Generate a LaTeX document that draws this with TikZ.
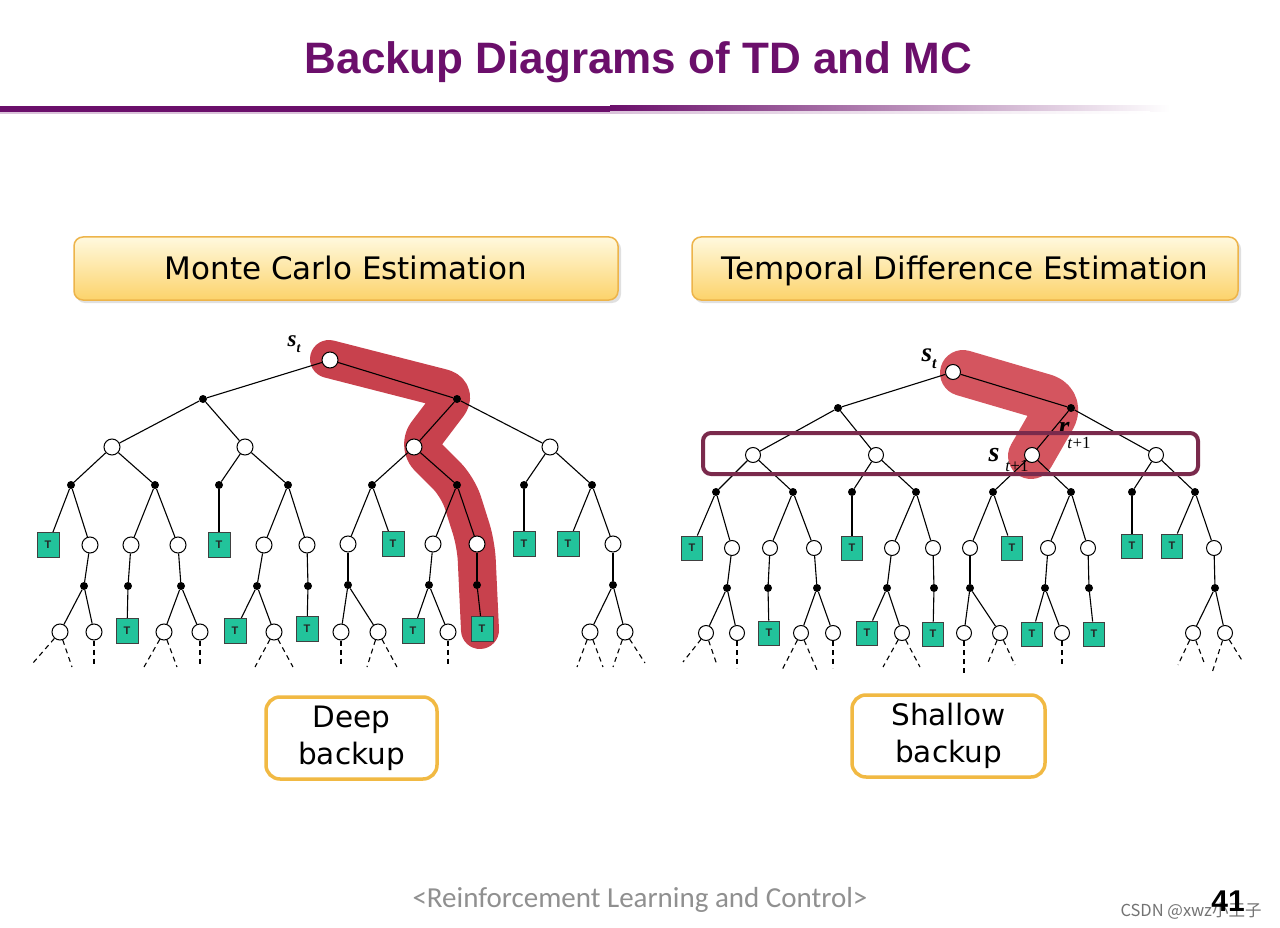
\documentclass[tikz,border=0pt]{standalone}
\usepackage{fontspec}
\setmainfont{DejaVu Sans}
\newfontfamily\titlefont{Liberation Sans}
\newfontfamily\tms{Liberation Serif}
\newfontfamily\footfont{Carlito}
\newfontfamily\cjkfont{Noto Sans CJK SC}
\pgfdeclarelayer{pagelayer}
\pgfdeclarelayer{bandlayer}
\pgfdeclarelayer{edgelayer}
\pgfsetlayers{pagelayer,bandlayer,edgelayer,main}
\definecolor{titlepurple}{HTML}{6B0F6B}
\definecolor{hdrborder}{HTML}{EDB44A}
\definecolor{hdrtop}{HTML}{FFF9DE}
\definecolor{hdrbot}{HTML}{FCD36B}
\definecolor{btmborder}{HTML}{F1B943}
\definecolor{tgreen}{HTML}{22C39B}
\definecolor{mcband}{HTML}{C8414D}
\definecolor{tdband}{HTML}{D4555F}
\definecolor{rectpurple}{HTML}{7A2A4C}
\definecolor{footgray}{HTML}{909090}
\tikzset{
  sn/.style={circle,draw=black,fill=white,line width=1pt,inner sep=0pt,minimum size=16pt},
  snr/.style={sn,minimum size=15pt},
  an/.style={circle,fill=black,inner sep=0pt,minimum size=8pt},
  tn/.style={rectangle,draw=black!75,fill=tgreen,line width=0.9pt,inner sep=0pt,
    minimum width=22pt,minimum height=25pt,text=black!85,
    font=\titlefont\bfseries\fontsize{11}{11}\selectfont},
  tnr/.style={tn,minimum width=21pt,minimum height=24pt},
  edge/.style={line width=1.1pt,black},
  dsh/.style={line width=1.1pt,black,dash pattern=on 5pt off 4pt},
  band/.style={line width=38pt,line cap=round,line join=round,rounded corners=16pt},
  hdr/.style={rectangle,rounded corners=9pt,draw=hdrborder,line width=1.5pt,
    top color=hdrtop,bottom color=hdrbot,text height=22.6pt,text depth=0pt,
    font=\fontsize{31}{31}\selectfont},
  btm/.style={rectangle,rounded corners=14pt,draw=btmborder,line width=3.5pt,fill=white,
    align=center,font=\fontsize{29.5}{37}\selectfont},
  lbl/.style={inner sep=0pt,font=\tms\itshape\bfseries}
}
\begin{document}
\begin{tikzpicture}[x=1pt,y=-1pt]
\useasboundingbox (0,0) rectangle (1280,928);
\begin{pgfonlayer}{pagelayer}
\fill[white] (0,0) rectangle (1280,928);
\end{pgfonlayer}

% title
\node[anchor=base,inner sep=0pt,text=titlepurple,font=\titlefont\bfseries\fontsize{44}{44}\selectfont] (title) at (638.5,74) {Backup Diagrams of TD and MC};
\fill[titlepurple] (0,106) rectangle (610,112);
\shade[left color=titlepurple,right color=white] (610,106) rectangle (1170,112);
\fill[titlepurple!25] (0,112) rectangle (610,114);
\shade[left color=titlepurple!25,right color=white] (610,112) rectangle (1150,114);

% header boxes
\fill[black!12,rounded corners=9pt] (76,240) rectangle (621,303);
\fill[black!12,rounded corners=9pt] (694,240) rectangle (1241,303);
\node[hdr,minimum width=544pt,minimum height=63pt] (mc) at (346,268.5) {Monte Carlo Estimation};
\node[hdr,minimum width=546pt,minimum height=63pt] (td) at (965,268.5) {Temporal Difference Estimation};

% ================= MC tree =================
\node[sn] (r) at (330,360) {};
\node[an] (a1) at (203,399) {};
\node[an] (a2) at (457,399) {};
\node[sn] (s1) at (112,447) {};
\node[sn] (s2) at (245,447) {};
\node[sn] (s3) at (414,447) {};
\node[sn] (s4) at (550,447) {};
\node[an] (b1) at (71,485) {};
\node[an] (b2) at (155,485) {};
\node[an] (b3) at (219,485) {};
\node[an] (b4) at (288,485) {};
\node[an] (b5) at (372,485) {};
\node[an] (b6) at (457,485) {};
\node[an] (b7) at (524,485) {};
\node[an] (b8) at (592,485) {};
\node[tn] (t1) at (48,545) {T};
\node[sn] (c1) at (90,545) {};
\node[sn] (c2) at (131,545) {};
\node[sn] (c3) at (178,545) {};
\node[tn] (t2) at (219,545) {T};
\node[sn] (c4) at (264,545) {};
\node[sn] (c5) at (307,545) {};
\node[sn] (c6) at (348,544) {};
\node[tn] (t3) at (393,544) {T};
\node[sn] (c7) at (433,544) {};
\node[sn] (c8) at (477,544) {};
\node[tn] (t4) at (524,544) {T};
\node[tn] (t5) at (568,544) {T};
\node[sn] (c9) at (613,544) {};
\node[an] (d1) at (84,586) {};
\node[an] (d2) at (128,586) {};
\node[an] (d3) at (181,586) {};
\node[an] (d4) at (257,586) {};
\node[an] (d5) at (308,586) {};
\node[an] (d6) at (348,585) {};
\node[an] (d7) at (429,585) {};
\node[an] (d8) at (477,585) {};
\node[an] (d9) at (613,585) {};
\node[sn] (e1) at (60,632) {};
\node[sn] (e2) at (94,632) {};
\node[tn] (t6) at (127,631) {T};
\node[sn] (e3) at (164,632) {};
\node[sn] (e4) at (200,632) {};
\node[tn] (t7) at (235,631) {T};
\node[sn] (e5) at (274,632) {};
\node[tn] (t8) at (307,629) {T};
\node[sn] (e6) at (341,632) {};
\node[sn] (e7) at (378,632) {};
\node[tn] (t9) at (413,631) {T};
\node[sn] (e8) at (448,632) {};
\node[tn] (t10) at (482,629) {T};
\node[sn] (e9) at (590,632) {};
\node[sn] (e10) at (625,632) {};
\node[lbl,font=\tms\itshape\bfseries\fontsize{23}{23}\selectfont] (lst) at (294,344) {s\raisebox{-6pt}{\fontsize{14}{14}\selectfont t}};

\begin{pgfonlayer}{edgelayer}
\foreach \p/\c in {r/a1,r/a2,a1/s1,a1/s2,a2/s3,a2/s4,
  s1/b1,s1/b2,s2/b3,s2/b4,s3/b5,s3/b6,s4/b7,s4/b8,
  b1/t1,b1/c1,b2/c2,b2/c3,b3/t2,b4/c4,b4/c5,b5/c6,b5/t3,b6/c7,b6/c8,b7/t4,b8/t5,b8/c9,
  c1/d1,c2/d2,c3/d3,c4/d4,c5/d5,c6/d6,c7/d7,c8/d8,c9/d9,
  d1/e1,d1/e2,d2/t6,d3/e3,d3/e4,d4/t7,d4/e5,d5/t8,d6/e6,d6/e7,d7/t9,d7/e8,d8/t10,d9/e9,d9/e10}
  \draw[edge] (\p) -- (\c);
\draw[dsh] (e1) -- ++(-27,31);
\draw[dsh] (e1) -- ++(12,35);
\draw[dsh] (e2) -- ++(0,35);
\draw[dsh] (e3) -- ++(-20,35);
\draw[dsh] (e3) -- ++(13,35);
\draw[dsh] (e4) -- ++(0,35);
\draw[dsh] (e5) -- ++(-19,35);
\draw[dsh] (e5) -- ++(19,35);
\draw[dsh] (e6) -- ++(0,35);
\draw[dsh] (e7) -- ++(-11,35);
\draw[dsh] (e7) -- ++(19,35);
\draw[dsh] (e8) -- ++(0,35);
\draw[dsh] (e9) -- ++(-13,35);
\draw[dsh] (e9) -- ++(13,35);
\draw[dsh] (e10) -- ++(-12,35);
\draw[dsh] (e10) -- ++(20,31);
\end{pgfonlayer}
\begin{pgfonlayer}{bandlayer}
\draw[band,mcband] (329,359) -- (458,392) -- (417,446) -- (458,487) -- (476,544) -- (480,630);
\end{pgfonlayer}

% ================= TD tree =================
\node[snr] (R) at (953,372) {};
\node[an] (A1) at (838,408) {};
\node[an] (A2) at (1071,408) {};
\node[snr] (S1) at (753,455) {};
\node[snr] (S2) at (876,455) {};
\node[snr] (S3) at (1032,455) {};
\node[snr] (S4) at (1156,455) {};
\node[an] (B1) at (716,492) {};
\node[an] (B2) at (793,492) {};
\node[an] (B3) at (852,492) {};
\node[an] (B4) at (916,492) {};
\node[an] (B5) at (993,492) {};
\node[an] (B6) at (1071,492) {};
\node[an] (B7) at (1132,492) {};
\node[an] (B8) at (1195,492) {};
\node[tnr] (T1) at (692,548) {T};
\node[snr] (C1) at (732,548) {};
\node[snr] (C2) at (770,548) {};
\node[snr] (C3) at (814,548) {};
\node[tnr] (T2) at (852,548) {T};
\node[snr] (C4) at (892,548) {};
\node[snr] (C5) at (933,548) {};
\node[snr] (C6) at (970,548) {};
\node[tnr] (T3) at (1012,548) {T};
\node[snr] (C7) at (1048,548) {};
\node[snr] (C8) at (1088,548) {};
\node[tnr] (T4) at (1132,546) {T};
\node[tnr] (T5) at (1172,546) {T};
\node[snr] (C9) at (1214,548) {};
\node[an] (D1) at (727,588) {};
\node[an] (D2) at (768,588) {};
\node[an] (D3) at (817,588) {};
\node[an] (D4) at (887,588) {};
\node[an] (D5) at (934,588) {};
\node[an] (D6) at (970,588) {};
\node[an] (D7) at (1045,588) {};
\node[an] (D8) at (1089,588) {};
\node[an] (D9) at (1215,588) {};
\node[snr] (E1) at (706,633) {};
\node[snr] (E2) at (737,633) {};
\node[tnr] (T6) at (769,633) {T};
\node[snr] (E3) at (801,633) {};
\node[snr] (E4) at (833,633) {};
\node[tnr] (T7) at (867,633) {T};
\node[snr] (E5) at (902,633) {};
\node[tnr] (T8) at (933,634) {T};
\node[snr] (E6) at (964,633) {};
\node[snr] (E7) at (1000,633) {};
\node[tnr] (T9) at (1032,634) {T};
\node[snr] (E8) at (1062,633) {};
\node[tnr] (T10) at (1094,634) {T};
\node[snr] (E9) at (1193,633) {};
\node[snr] (E10) at (1225,633) {};

\begin{pgfonlayer}{edgelayer}
\foreach \p/\c in {R/A1,R/A2,A1/S1,A1/S2,A2/S3,A2/S4,
  S1/B1,S1/B2,S2/B3,S2/B4,S3/B5,S3/B6,S4/B7,S4/B8,
  B1/T1,B1/C1,B2/C2,B2/C3,B3/T2,B4/C4,B4/C5,B5/C6,B5/T3,B6/C7,B6/C8,B7/T4,B8/T5,B8/C9,
  C1/D1,C2/D2,C3/D3,C4/D4,C5/D5,C6/D6,C7/D7,C8/D8,C9/D9,
  D1/E1,D1/E2,D2/T6,D3/E3,D3/E4,D4/T7,D4/E5,D5/T8,D6/E6,D6/E7,D7/T9,D7/E8,D8/T10,D9/E9,D9/E10}
  \draw[edge] (\p) -- (\c);
\draw[dsh] (E1) -- ++(-23,29);
\draw[dsh] (E1) -- ++(11,32);
\draw[dsh] (E2) -- ++(0,35);
\draw[dsh] (E3) -- ++(-19,37);
\draw[dsh] (E3) -- ++(16,37);
\draw[dsh] (E4) -- ++(0,35);
\draw[dsh] (E5) -- ++(-19,34);
\draw[dsh] (E5) -- ++(18,34);
\draw[dsh] (E6) -- ++(0,40);
\draw[dsh] (E7) -- ++(-13,32);
\draw[dsh] (E7) -- ++(15,32);
\draw[dsh] (E8) -- ++(0,34);
\draw[dsh] (E9) -- ++(-15,32);
\draw[dsh] (E9) -- ++(12,32);
\draw[dsh] (E10) -- ++(-13,40);
\draw[dsh] (E10) -- ++(18,29);
\end{pgfonlayer}
\begin{pgfonlayer}{bandlayer}
\draw[band,tdband,line width=46pt,rounded corners=18pt] (963,373) -- (1062,402) -- (1031,456);
\end{pgfonlayer}

\node[lbl,font=\tms\itshape\bfseries\fontsize{27}{27}\selectfont] (lSt) at (929,359) {s\raisebox{-7pt}{\fontsize{16}{16}\selectfont t}};
\node[lbl,font=\tms\itshape\bfseries\fontsize{28}{28}\selectfont] (lr) at (1064,429) {r};
\node[lbl,font=\tms\fontsize{17}{17}\selectfont] (lrs) at (1079,443) {\textit{t}+1};
\node[lbl,font=\tms\itshape\bfseries\fontsize{28}{28}\selectfont] (ls) at (994,455) {s};
\node[lbl,font=\tms\fontsize{17}{17}\selectfont] (lss) at (1017,466) {\textit{t}+1};

% purple frame
\draw[rectpurple,line width=4pt,rounded corners=8pt] (703,433) rectangle (1198,474);

% bottom boxes
\node[btm,minimum width=171pt,minimum height=82pt] (deep) at (351.5,738) {Deep\\backup};
\node[btm,minimum width=193pt,minimum height=82pt] (shallow) at (948.5,736) {Shallow\\backup};

% footer
\node[anchor=base,inner sep=0pt,text=footgray,font=\footfont\fontsize{29}{29}\selectfont] (foot) at (640,907) {<Reinforcement Learning and Control>};
\node[anchor=base,inner sep=0pt,text=black!55,font=\cjkfont\fontsize{16.5}{16.5}\selectfont] (wm) at (1191,916) {CSDN @xwz小王子};
\node[anchor=base,inner sep=0pt,text=black,font=\titlefont\bfseries\fontsize{30}{30}\selectfont] (pg) at (1228,911) {41};
\end{tikzpicture}
\end{document}
